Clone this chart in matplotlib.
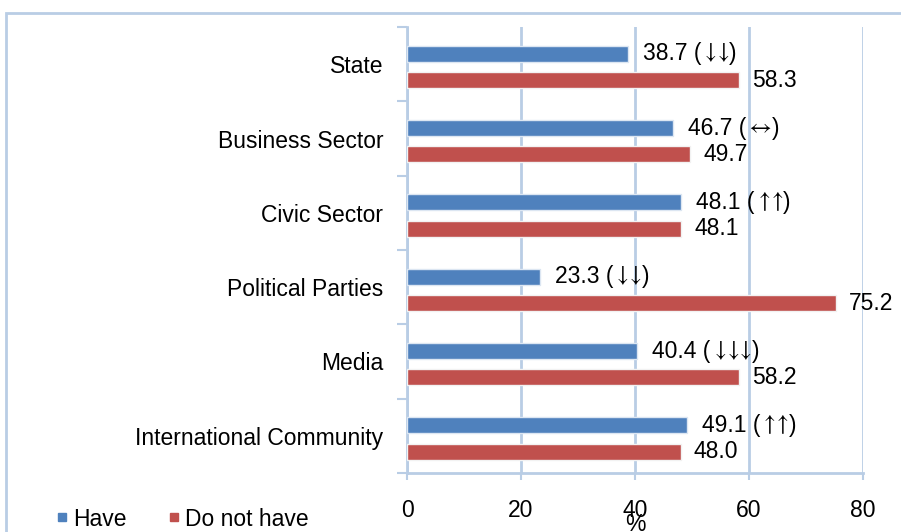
import matplotlib
matplotlib.use("Agg")
import matplotlib.pyplot as plt
from matplotlib.lines import Line2D
from matplotlib.patches import Rectangle
import numpy as np

plt.rcParams['font.family'] = ['Liberation Sans', 'DejaVu Sans']

categories = ["State", "Business Sector", "Civic Sector", "Political Parties",
              "Media", "International Community"]
have = [38.7, 46.7, 48.1, 23.3, 40.4, 49.1]
do_not_have = [58.3, 49.7, 48.1, 75.2, 58.2, 48.0]
# trend arrows written as mathtext symbols
trends = [r"$\downarrow\!\!\downarrow$", r"$\leftrightarrow$", r"$\uparrow\!\!\uparrow$",
          r"$\downarrow\!\!\downarrow$", r"$\downarrow\!\!\downarrow\!\!\downarrow$",
          r"$\uparrow\!\!\uparrow$"]
x_ticks = [0, 20, 40, 60, 80]
series_names = ["Have", "Do not have"]

BLUE = "#4F81BD"
RED = "#C0504D"
GRID = "#B9CDE5"
FS = 16.5

W, H = 901, 532
fig = plt.figure(figsize=(W / 100, H / 100), dpi=100)

# outer chart frame
fig.add_artist(Rectangle((6 / W, -0.2), 1.2, 1 - 13 / H + 0.2,
                         transform=fig.transFigure, fill=False,
                         edgecolor=GRID, linewidth=2))

left, right, top, bottom = 407, 863, 27, 473
ax = fig.add_axes([left / W, 1 - bottom / H, (right - left) / W, (bottom - top) / H])

y = np.arange(len(categories))
bar_h = 0.215
off_have, off_not = -0.14, 0.215

ax.barh(y + off_have, have, height=bar_h, color=BLUE,
        edgecolor="#DCE6F2", linewidth=1, zorder=3)
ax.barh(y + off_not, do_not_have, height=bar_h, color=RED,
        edgecolor="#F2F2F2", linewidth=1, zorder=3)

for i in range(len(categories)):
    # value, then the trend arrows, then the closing paren
    t1 = ax.annotate(f"{have[i]:.1f} (", (have[i], y[i] + off_have),
                     xytext=(15, 0), textcoords="offset pixels",
                     va="center", ha="left", fontsize=FS, zorder=4,
                     annotation_clip=False)
    t2 = ax.annotate(trends[i], xy=(1, 0.5), xycoords=t1,
                     xytext=(0, 1), textcoords="offset pixels",
                     va="center", ha="left", fontsize=FS, zorder=4,
                     math_fontfamily="stix")
    ax.annotate(")", xy=(1, 0.5), xycoords=t2,
                xytext=(0, -1), textcoords="offset pixels",
                va="center", ha="left", fontsize=FS, zorder=4)
    ax.annotate(f"{do_not_have[i]:.1f}", (do_not_have[i], y[i] + off_not),
                xytext=(13, 0), textcoords="offset pixels",
                va="center", ha="left", fontsize=FS, zorder=4,
                annotation_clip=False)

ax.set_xlim(0, 80)
ax.set_ylim(len(categories) - 0.5, -0.5)
ax.set_xticks(x_ticks)
ax.set_xticklabels([str(t) for t in x_ticks], fontsize=FS)
ax.set_yticks(y)
ax.set_yticklabels(categories, fontsize=FS)
ax.set_yticks(np.arange(-0.5, len(categories)), minor=True)

ax.tick_params(axis="y", which="major", length=0, pad=17)
ax.tick_params(axis="y", which="minor", length=7, width=1.5, color=GRID)
ax.tick_params(axis="x", which="major", length=5, width=1.5, color=GRID, pad=13.5)

ax.grid(axis="x", color=GRID, linewidth=2, zorder=0)
ax.set_axisbelow(True)
for s in ["top", "right"]:
    ax.spines[s].set_visible(False)
for s in ["left", "bottom"]:
    ax.spines[s].set_color(GRID)
    ax.spines[s].set_linewidth(2)

ax.set_xlabel("%", fontsize=FS, labelpad=-6)

handles = [Line2D([], [], marker="s", linestyle="none", markersize=6,
                  color=BLUE),
           Line2D([], [], marker="s", linestyle="none", markersize=6,
                  color=RED)]
fig.legend(handles, series_names, loc="center left",
           bbox_to_anchor=(55 / W, 1 - 519 / H), ncol=2, frameon=False,
           fontsize=FS, handlelength=0.6, handletextpad=0.2,
           columnspacing=1.75, borderaxespad=0, borderpad=0)

fig.savefig("out.png", dpi=100)
